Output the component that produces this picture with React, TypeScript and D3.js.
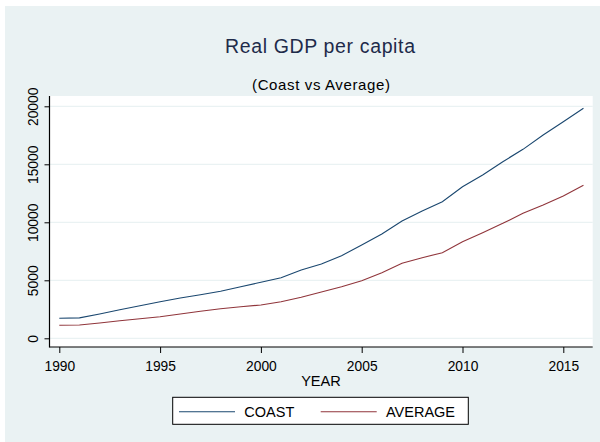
import React, { useEffect, useRef } from 'react';
import * as d3 from 'd3';

const years = [1990, 1991, 1992, 1993, 1994, 1995, 1996, 1997, 1998, 1999, 2000, 2001, 2002, 2003, 2004, 2005, 2006, 2007, 2008, 2009, 2010, 2011, 2012, 2013, 2014, 2015, 2016];
const coast = [1724, 1760, 2095, 2455, 2810, 3155, 3470, 3760, 4050, 4450, 4827, 5225, 5890, 6400, 7120, 8040, 8990, 10110, 10975, 11775, 13070, 14075, 15225, 16290, 17525, 18670, 19825];
const average = [1120, 1150, 1319, 1517, 1690, 1862, 2095, 2327, 2552, 2724, 2870, 3155, 3534, 3990, 4450, 4965, 5655, 6465, 6950, 7380, 8330, 9105, 9910, 10775, 11490, 12265, 13190];
const xTicks = [1990, 1995, 2000, 2005, 2010, 2015];
const yTicks = [0, 5000, 10000, 15000, 20000];
const seriesNames = ['COAST', 'AVERAGE'];
const seriesColors = ['#1a476f', '#90353b'];

const FONT = '"Liberation Sans", Arial, sans-serif';

export default function App() {
  const svgRef = useRef<SVGSVGElement>(null);

  useEffect(() => {
    if (!svgRef.current) return;
    const svg = d3.select(svgRef.current);
    svg.selectAll('*').remove();

    const W = 600, H = 442;
    const plot = { left: 49.5, right: 592.7, top: 96, bottom: 347 };

    // graph region
    svg.append('rect').attr('width', W).attr('height', H).attr('fill', '#ffffff');
    svg.append('rect').attr('x', 5).attr('y', 6).attr('width', W - 5).attr('height', H - 6).attr('fill', '#eaf2f3');
    svg.append('rect')
      .attr('x', plot.left).attr('y', plot.top)
      .attr('width', plot.right - plot.left).attr('height', plot.bottom - plot.top)
      .attr('fill', '#ffffff');

    const x = d3.scaleLinear().domain([1990, 2015]).range([59.3, 563.3]);
    const y = d3.scaleLinear().domain([0, 20000]).range([338.3, 106.3]);

    // gridlines
    svg.append('g').selectAll('line').data(yTicks).enter().append('line')
      .attr('x1', plot.left).attr('x2', plot.right)
      .attr('y1', d => y(d)).attr('y2', d => y(d))
      .attr('stroke', '#eaf2f3').attr('stroke-width', 1.2);

    // series
    const series = [coast, average];
    const line = d3.line<number>().x((_, i) => x(years[i])).y(d => y(d));
    series.forEach((s, k) => {
      svg.append('path').datum(s).attr('d', line)
        .attr('fill', 'none').attr('stroke', seriesColors[k]).attr('stroke-width', 1.1);
    });

    // y axis
    const yAxis = svg.append('g').attr('transform', `translate(${plot.left},0)`)
      .call(d3.axisLeft(y).tickValues(yTicks).tickFormat(d3.format('d')).tickSize(5).tickSizeOuter(0));
    yAxis.select('.domain').remove();
    yAxis.selectAll('line').attr('stroke', '#000');
    yAxis.selectAll('text')
      .attr('transform', 'rotate(-90)')
      .attr('x', 0).attr('y', -11.5).attr('dy', 0)
      .attr('text-anchor', 'middle')
      .attr('font-family', FONT).attr('font-size', 13.8).attr('fill', '#000');
    svg.append('line').attr('x1', plot.left).attr('x2', plot.left)
      .attr('y1', plot.top).attr('y2', plot.bottom + 0.5).attr('stroke', '#000').attr('stroke-width', 1.2);

    // x axis
    const xAxis = svg.append('g').attr('transform', `translate(0,${plot.bottom})`)
      .call(d3.axisBottom(x).tickValues(xTicks).tickFormat(d3.format('d')).tickSize(6).tickSizeOuter(0));
    xAxis.select('.domain').remove();
    xAxis.selectAll('line').attr('stroke', '#000');
    xAxis.selectAll('text')
      .attr('y', 23.5).attr('dy', 0)
      .attr('font-family', FONT).attr('font-size', 13.8).attr('fill', '#000');
    svg.append('line').attr('x1', plot.left).attr('x2', plot.right)
      .attr('y1', plot.bottom).attr('y2', plot.bottom).attr('stroke', '#000').attr('stroke-width', 1.2);

    svg.append('text').attr('x', 321).attr('y', 386).attr('text-anchor', 'middle')
      .attr('font-family', FONT).attr('font-size', 14.6).attr('fill', '#000').text('YEAR');

    // titles
    svg.append('text').attr('x', 320).attr('y', 53.3).attr('text-anchor', 'middle')
      .attr('font-family', FONT).attr('font-size', 19.5).attr('fill', '#1e2b4a')
      .attr('textLength', 190).attr('lengthAdjust', 'spacing')
      .text('Real GDP per capita');
    svg.append('text').attr('x', 321).attr('y', 90).attr('text-anchor', 'middle')
      .attr('font-family', FONT).attr('font-size', 15).attr('fill', '#000')
      .attr('textLength', 138).attr('lengthAdjust', 'spacing')
      .text('(Coast vs Average)');

    // legend
    const lg = svg.append('g');
    lg.append('rect').attr('x', 172.7).attr('y', 397.3).attr('width', 295.6).attr('height', 27)
      .attr('fill', '#ffffff').attr('stroke', '#000').attr('stroke-width', 1);
    const lineStarts = [179, 320.7];
    const textStarts = [244.3, 386];
    seriesNames.forEach((name, k) => {
      lg.append('line').attr('x1', lineStarts[k]).attr('x2', lineStarts[k] + 56)
        .attr('y1', 411.7).attr('y2', 411.7).attr('stroke', seriesColors[k]).attr('stroke-width', 1.1);
      lg.append('text').attr('x', textStarts[k]).attr('y', 417.3)
        .attr('font-family', FONT).attr('font-size', 14.5).attr('fill', '#000').text(name);
    });
  }, []);

  return (
    <div style={{ position: 'absolute', left: 0, top: 0 }}>
      <svg ref={svgRef} width={600} height={442} style={{ display: 'block' }} />
    </div>
  );
}
